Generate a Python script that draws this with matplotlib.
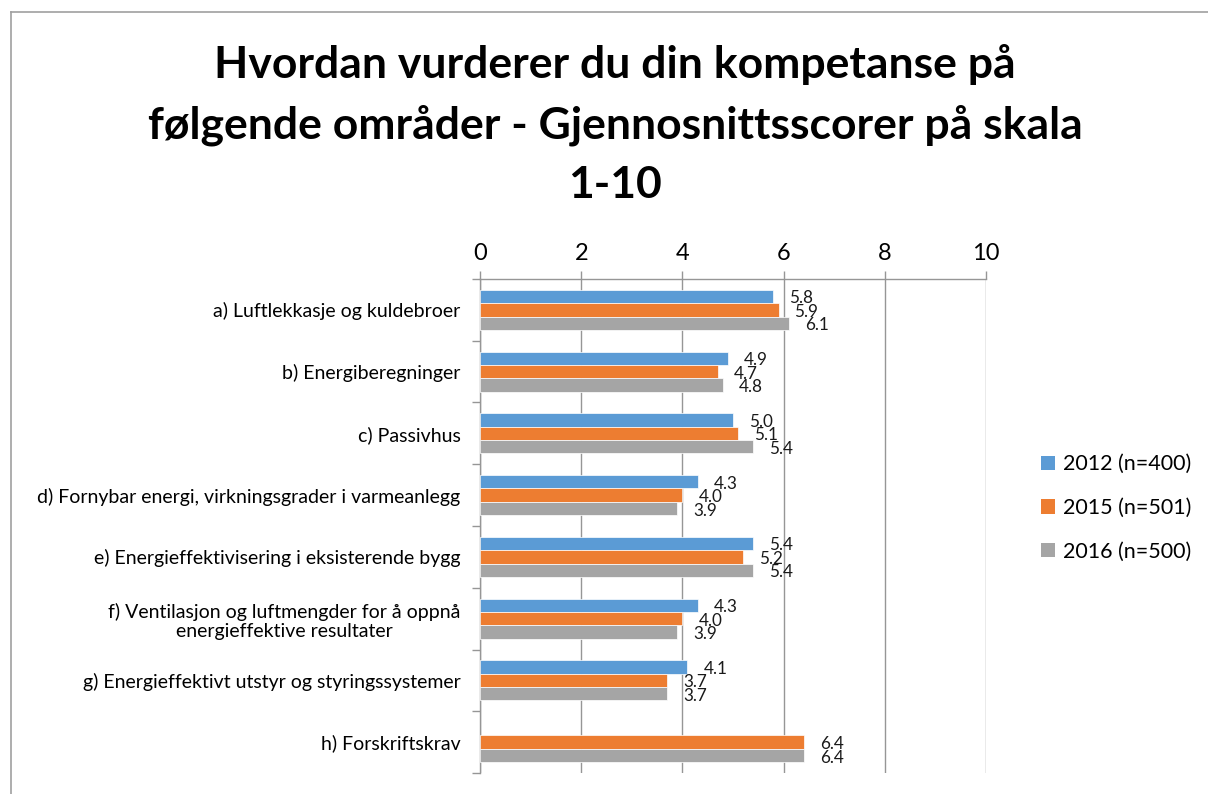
import numpy as np
import matplotlib.pyplot as plt
from matplotlib.lines import Line2D
from matplotlib.patches import Patch

plt.rcParams['font.family'] = ['Lato', 'DejaVu Sans']

categories = [
    "a) Luftlekkasje og kuldebroer",
    "b) Energiberegninger",
    "c) Passivhus",
    "d) Fornybar energi, virkningsgrader i varmeanlegg",
    "e) Energieffektivisering i eksisterende bygg",
    "f) Ventilasjon og luftmengder for å oppnå\nenergieffektive resultater",
    "g) Energieffektivt utstyr og styringssystemer",
    "h) Forskriftskrav",
]
v2012 = [5.8, 4.9, 5.0, 4.3, 5.4, 4.3, 4.1, np.nan]
v2015 = [5.9, 4.7, 5.1, 4.0, 5.2, 4.0, 3.7, 6.4]
v2016 = [6.1, 4.8, 5.4, 3.9, 5.4, 3.9, 3.7, 6.4]
series = ["2012 (n=400)", "2015 (n=501)", "2016 (n=500)"]
colors = ["#5B9BD5", "#ED7D31", "#A5A5A5"]

W, H = 1208, 794
fig = plt.figure(figsize=(W / 100, H / 100), dpi=100)
ax = fig.add_axes([480 / W, 1 - 773 / H, 506 / W, 494 / H])

grid_c = "#969696"
y = np.arange(len(categories))
bh = 0.215
offsets = [-0.218, 0.0, 0.218]
for vals, off, col in zip([v2012, v2015, v2016], offsets, colors):
    vals = np.array(vals, dtype=float)
    ok = ~np.isnan(vals)
    ax.barh(y[ok] + off, vals[ok], height=bh, color=col,
            edgecolor="white", linewidth=0.5, zorder=3)
    for yi, v in zip(y[ok] + off, vals[ok]):
        ax.annotate(f"{v:.1f}", (v, yi), xytext=(11.5, -1.5),
                    textcoords="offset points", ha="left", va="center",
                    fontsize=12.3, color="#1a1a1a")

ax.set_xlim(0, 10)
ax.set_ylim(len(categories) - 0.5, -0.5)
ax.set_xticks(range(0, 11, 2))
ax.xaxis.tick_top()
ax.tick_params(axis="x", length=6, width=1, color=grid_c, labelsize=17,
               pad=5, labelcolor="black")
ax.grid(axis="x", color=grid_c, linewidth=1, zorder=0)

ax.set_yticks(y)
ax.set_yticklabels(categories, fontsize=14, multialignment="center")
ax.set_yticks(np.arange(-0.5, len(categories)), minor=True)
ax.tick_params(axis="y", which="major", length=0, pad=14)
ax.tick_params(axis="y", which="minor", length=6, width=1, color=grid_c)

for s in ["right", "bottom"]:
    ax.spines[s].set_visible(False)
for s in ["top", "left"]:
    ax.spines[s].set_color(grid_c)
    ax.spines[s].set_linewidth(1)

handles = [Patch(facecolor=c, edgecolor="none") for c in colors]
fig.legend(handles, series, loc="center left",
           bbox_to_anchor=(1041 / W, 1 - 508 / H), frameon=False,
           fontsize=15.5, handlelength=0.65, handleheight=0.65,
           handletextpad=0.35, labelspacing=1.1, borderpad=0,
           borderaxespad=0)

fig.text(615 / W, 1 - 44 / H,
         "Hvordan vurderer du din kompetanse på\n"
         "følgende områder - Gjennosnittsscorer på skala\n1-10",
         ha="center", va="top", fontsize=32, fontweight="bold",
         linespacing=1.58)

# outer chart border
fig.add_artist(Line2D([11 / W, 11 / W], [0, 1 - 12 / H],
                      transform=fig.transFigure, color="#a0a0a0", lw=1.2))
fig.add_artist(Line2D([11 / W, 1], [1 - 12 / H, 1 - 12 / H],
                      transform=fig.transFigure, color="#a0a0a0", lw=1.2))

fig.savefig("out.png", dpi=100)
